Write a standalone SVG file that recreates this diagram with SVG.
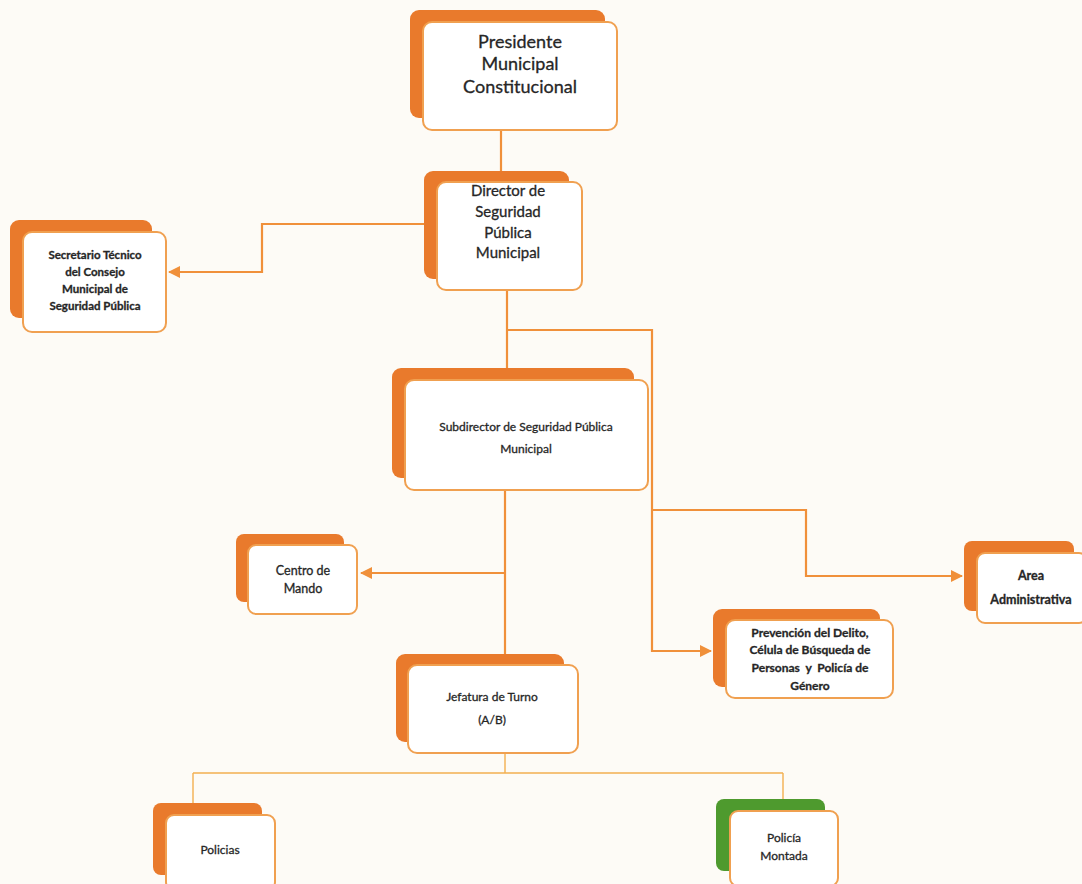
<svg xmlns="http://www.w3.org/2000/svg" width="1082" height="884" viewBox="0 0 1082 884">
<style>
.bk{fill:#e97a2c}
.bkg{fill:#4e9a2e}
.fr{fill:#ffffff;stroke:#f0a050;stroke-width:2}
.t{font-family:Lato,"Liberation Sans",sans-serif;fill:#262626;stroke:#262626;stroke-width:0.3;text-anchor:middle;white-space:pre}
.c{fill:none;stroke:#f0903a;stroke-width:2.2}
.c2{fill:none;stroke:#f2b050;stroke-width:1.4}
</style>
<defs>
<marker id="a" viewBox="0 0 12 12" refX="11" refY="6" markerWidth="12" markerHeight="12" orient="auto" markerUnits="userSpaceOnUse">
<path d="M0,0 L12,6 L0,12 z" fill="#f0903a"/>
</marker>
</defs>
<rect width="1082" height="884" fill="#fdfbf6"/>
<g id="connectors">
<path class="c" d="M501,130 V172"/>
<path class="c" d="M437,224 H262 V272 H169" marker-end="url(#a)"/>
<path class="c" d="M507,290 V368"/>
<path class="c" d="M507,330 H652 V651 H711" marker-end="url(#a)"/>
<path class="c" d="M652,510 H806 V576 H962" marker-end="url(#a)"/>
<path class="c" d="M505,490 V655"/>
<path class="c" d="M505,573 H361" marker-end="url(#a)"/>
<path class="c2" d="M505,753 V773 M193,773 H783 M193,773 V803 M783,773 V800"/>
</g>
<g id="n-presidente">
<rect class="bk" x="410" y="10" width="195" height="108" rx="9"/>
<rect class="fr" x="423" y="22" width="194" height="108" rx="9"/>
<text class="t" font-size="18"><tspan x="520" y="48">Presidente</tspan><tspan x="520" y="70">Municipal</tspan><tspan x="520" y="93">Constitucional</tspan></text>
</g>
<g id="n-director">
<rect class="bk" x="424" y="171" width="145" height="108" rx="9"/>
<rect class="fr" x="437" y="182" width="145" height="108" rx="9"/>
<text class="t" font-size="15"><tspan x="508" y="196">Director de</tspan><tspan x="508" y="217">Seguridad</tspan><tspan x="508" y="238">Pública</tspan><tspan x="508" y="258">Municipal</tspan></text>
</g>
<g id="n-secretario">
<rect class="bk" x="10" y="220" width="142" height="98" rx="9"/>
<rect class="fr" x="23" y="232" width="143" height="100" rx="9"/>
<text class="t" font-size="11.5" font-weight="bold"><tspan x="95" y="259">Secretario Técnico</tspan><tspan x="95" y="276">del Consejo</tspan><tspan x="95" y="293">Municipal de</tspan><tspan x="95" y="310">Seguridad Pública</tspan></text>
</g>
<g id="n-subdirector">
<rect class="bk" x="392" y="368" width="242" height="110" rx="9"/>
<rect class="fr" x="405" y="380" width="243" height="110" rx="9"/>
<text class="t" font-size="12"><tspan x="526" y="431">Subdirector de Seguridad Pública</tspan><tspan x="526" y="453">Municipal</tspan></text>
</g>
<g id="n-centro">
<rect class="bk" x="236" y="534" width="108" height="68" rx="8"/>
<rect class="fr" x="248" y="545" width="109" height="69" rx="8"/>
<text class="t" font-size="12.5"><tspan x="303" y="575">Centro de</tspan><tspan x="303" y="593">Mando</tspan></text>
</g>
<g id="n-jefatura">
<rect class="bk" x="396" y="654" width="168" height="88" rx="9"/>
<rect class="fr" x="408" y="665" width="170" height="88" rx="9"/>
<text class="t" font-size="12"><tspan x="492" y="701">Jefatura de Turno</tspan><tspan x="492" y="724">(A/B)</tspan></text>
</g>
<g id="n-prevencion">
<rect class="bk" x="713" y="609" width="167" height="78" rx="9"/>
<rect class="fr" x="726" y="620" width="167" height="78" rx="9"/>
<text class="t" font-size="12" font-weight="bold"><tspan x="810" y="637">Prevención del Delito,</tspan><tspan x="810" y="654">Célula de Búsqueda de</tspan><tspan x="810" y="672">Personas  y  Policía de</tspan><tspan x="810" y="690">Género</tspan></text>
</g>
<g id="n-area">
<rect class="bk" x="964" y="541" width="110" height="70" rx="8"/>
<rect class="fr" x="977" y="553" width="110" height="70" rx="8"/>
<text class="t" font-size="12.5" font-weight="bold"><tspan x="1031" y="580">Area</tspan><tspan x="1031" y="604">Administrativa</tspan></text>
</g>
<g id="n-policias">
<rect class="bk" x="153" y="803" width="109" height="72" rx="8"/>
<rect class="fr" x="166" y="815" width="109" height="75" rx="8"/>
<text class="t" font-size="12"><tspan x="220" y="854">Policias</tspan></text>
</g>
<g id="n-montada">
<rect class="bkg" x="716" y="799" width="109" height="72" rx="8"/>
<rect class="fr" x="730" y="811" width="108" height="75" rx="8"/>
<text class="t" font-size="12"><tspan x="784" y="842">Policía</tspan><tspan x="784" y="860">Montada</tspan></text>
</g>
</svg>
